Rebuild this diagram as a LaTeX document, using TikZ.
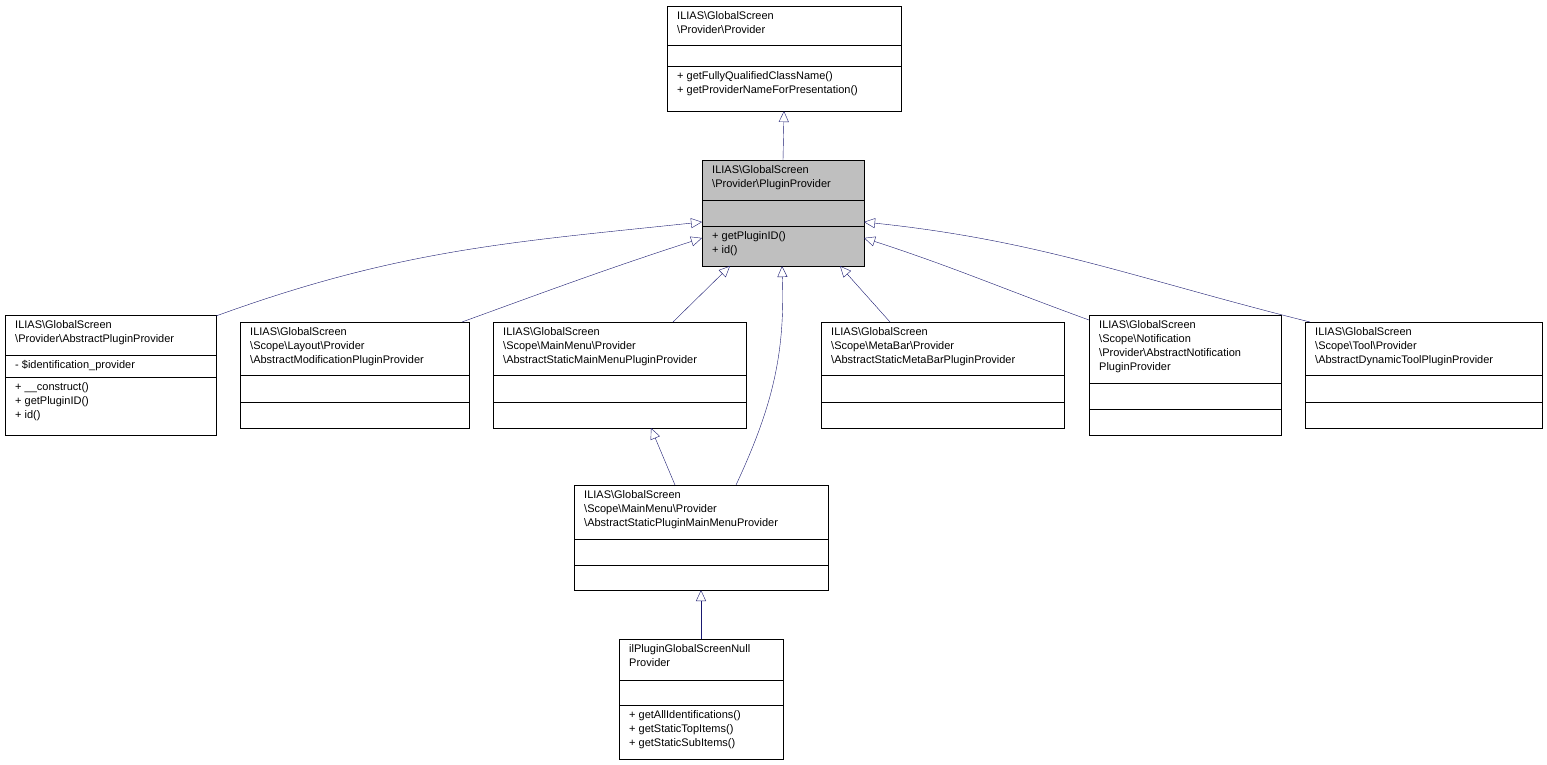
\documentclass[tikz,border=0pt]{standalone}
\usepackage{fontspec}
\setmainfont{Liberation Sans}
\usetikzlibrary{arrows.meta}
\definecolor{edgeblue}{HTML}{191970}
\definecolor{boxgray}{HTML}{BFBFBF}
\newcommand{\bs}{\textbackslash}
\tikzset{
    cls/.style={draw, rectangle, inner sep=0pt, outer sep=0pt, anchor=north west},
    txt/.style={anchor=north west, inner sep=0pt, font=\fontsize{11}{14}\selectfont},
    inherit/.style={draw=edgeblue, -{Triangle[open,length=11pt,width=10pt]}}
}
% name, x1, y1, x2, end of title, end of attributes, y2, title, methods
\newcommand{\umlclass}[9]{
	\node[cls, minimum width={(#4-#2)*1pt}, minimum height={(#7-#3)*1pt}] (#1) at (#2,#3) {};
	\draw (#2,#5) -- (#4,#5);
	\draw (#2,#6) -- (#4,#6);
	\node[txt, text width={(#4-#2-20)*1pt}] at (#2+10,#3+5) {\raggedright #8};
	\node[txt, align=left] at (#2+10,#6+5) {#9};
}

\begin{document}
\begin{tikzpicture}[x=1pt, y=-1pt]
		\useasboundingbox (0,0) rectangle (1547,765);

		% top
		\umlclass{prov}{667}{6}{901}{45}{66}{111}{ILIAS\bs GlobalScreen\par\centering\bs Provider\bs Provider}{+ getFullyQualifiedClassName()\\+ getProviderNameForPresentation()}
		\fill[boxgray] (702,160) rectangle (864,266);
		\umlclass{pp}{702}{160}{864}{200}{226}{266}{ILIAS\bs GlobalScreen\par\centering\bs Provider\bs PluginProvider}{+ getPluginID()\\+ id()}

		% children
		\umlclass{app}{5}{315}{216}{355}{377}{435}{ILIAS\bs GlobalScreen\\\bs Provider\bs AbstractPluginProvider}{+ \_\_construct()\\+ getPluginID()\\+ id()}
		\node[txt] (appattr) at (15,360) {- \$identification\_provider};
		\umlclass{amp}{240}{322}{469}{375}{402}{428}{ILIAS\bs GlobalScreen\\\bs Scope\bs Layout\bs Provider\\\bs AbstractModificationPluginProvider}{}
		\umlclass{mmp}{493}{322}{746}{375}{402}{428}{ILIAS\bs GlobalScreen\\\bs Scope\bs MainMenu\bs Provider\\\bs AbstractStaticMainMenuPluginProvider}{}
		\umlclass{mbp}{821}{322}{1064}{375}{402}{428}{ILIAS\bs GlobalScreen\\\bs Scope\bs MetaBar\bs Provider\\\bs AbstractStaticMetaBarPluginProvider}{}
		\umlclass{anp}{1089}{315}{1281}{383}{409}{435}{ILIAS\bs GlobalScreen\\\bs Scope\bs Notification\\\bs Provider\bs AbstractNotification\par\centering PluginProvider}{}
		\umlclass{atp}{1305}{322}{1542}{375}{402}{428}{ILIAS\bs GlobalScreen\\\bs Scope\bs Tool\bs Provider\\\bs AbstractDynamicToolPluginProvider}{}
		\umlclass{spm}{574}{485}{828}{539}{565}{590}{ILIAS\bs GlobalScreen\\\bs Scope\bs MainMenu\bs Provider\\\bs AbstractStaticPluginMainMenuProvider}{}
		\umlclass{nul}{619}{639}{783}{680}{705}{759}{ilPluginGlobalScreenNull\par\centering Provider}{+ getAllIdentifications()\\+ getStaticTopItems()\\+ getStaticSubItems()}

		% inheritance
		\draw[inherit] (pp.north) -- (prov.south);
		\draw[inherit] ([yshift=-1pt]app.north east) to[out=20, in=186] ([yshift=-9pt]pp.west);
		\draw[inherit] ([xshift=-7pt]amp.north east) to[out=20, in=198] ([yshift=-25pt]pp.west);
		\draw[inherit] ([xshift=53.5pt]mmp.north) -- ([xshift=-53pt]pp.south);
		\draw[inherit] ([xshift=35pt]spm.north) to[out=65, in=-88] ([xshift=-1pt]pp.south);
		\draw[inherit] ([xshift=-52.5pt]mbp.north) -- ([xshift=57pt]pp.south);
		\draw[inherit] ([yshift=-5pt]anp.north west) to[out=160, in=-18] ([yshift=-25pt]pp.east);
		\draw[inherit] ([xshift=5pt]atp.north west) to[out=166, in=-6] ([yshift=-9pt]pp.east);
		\draw[inherit] ([xshift=-26pt]spm.north) -- ([xshift=31.5pt]mmp.south);
		\draw[inherit] (nul.north) -- (spm.south);
	\end{tikzpicture}
\end{document}
